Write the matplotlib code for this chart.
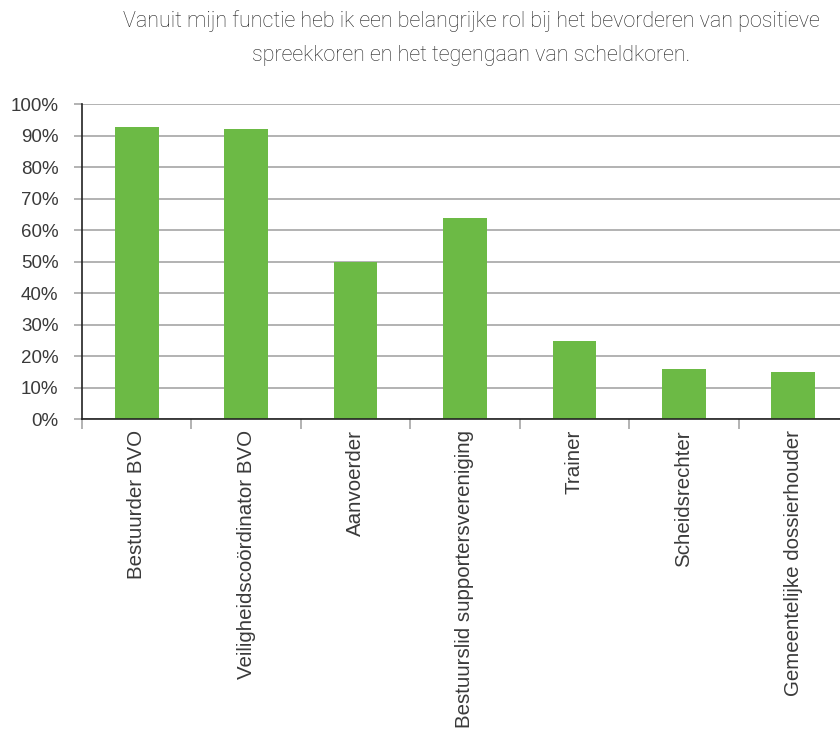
import matplotlib
matplotlib.use('Agg')
import matplotlib.pyplot as plt
import numpy as np

# Data
categories = ['Bestuurder BVO', 'Veiligheidscoördinator BVO', 'Aanvoerder',
              'Bestuurslid supportersvereniging', 'Trainer', 'Scheidsrechter',
              'Gemeentelijke dossierhouder']
values = [92.7, 92.1, 49.8, 63.8, 24.8, 15.9, 14.9]
y_ticks = list(range(0, 101, 10))
title = ('Vanuit mijn functie heb ik een belangrijke rol bij het bevorderen van positieve\n'
         'spreekkoren en het tegengaan van scheldkoren.')

bar_color = '#6cba45'
grid_color = '#a6a6a6'
text_color = '#3a3a3a'

plt.rcParams['font.family'] = ['Liberation Sans', 'DejaVu Sans']

fig = plt.figure(figsize=(8.4, 7.34), dpi=100)
ax = fig.add_axes([82 / 840, 1 - 419 / 734, 1 - 82 / 840, (419 - 104) / 734])

x = np.arange(len(categories))
ax.bar(x, values, width=0.40, color=bar_color, zorder=3)

ax.set_yticks(y_ticks)
ax.set_yticklabels([f'{v}%' for v in y_ticks], fontsize=13.5, color=text_color)
ax.yaxis.grid(True, color=grid_color, linewidth=1.2, zorder=0)
ax.tick_params(axis='y', length=6, width=1.2, color=grid_color, pad=11)

# labels at category centres, tick marks at the boundaries
ax.set_xticks(x)
ax.set_xticklabels(categories, rotation=90, fontsize=14.8, color=text_color, va='top')
ax.tick_params(axis='x', which='major', length=0, pad=8)
ax.set_xticks(np.arange(len(categories) + 1) - 0.5, minor=True)
ax.tick_params(axis='x', which='minor', length=7, width=1.2, color=grid_color)

# limits after the ticks, so set_xticks does not widen them
ax.set_ylim(0, 100)
ax.set_xlim(-0.5, 6.5 - 8 / 109.5)

for s in ['top', 'right']:
    ax.spines[s].set_visible(False)
for s in ['left', 'bottom']:
    ax.spines[s].set_color('#222222')
    ax.spines[s].set_linewidth(1.2)
    ax.spines[s].set_zorder(4)

fig.text(471 / 840, 1 - 10 / 734, title, ha='center', va='top', fontsize=15.5,
         color='#222222', family=['Roboto', 'DejaVu Sans'], fontweight='light',
         linespacing=1.8)

fig.savefig('out.png', dpi=100)
